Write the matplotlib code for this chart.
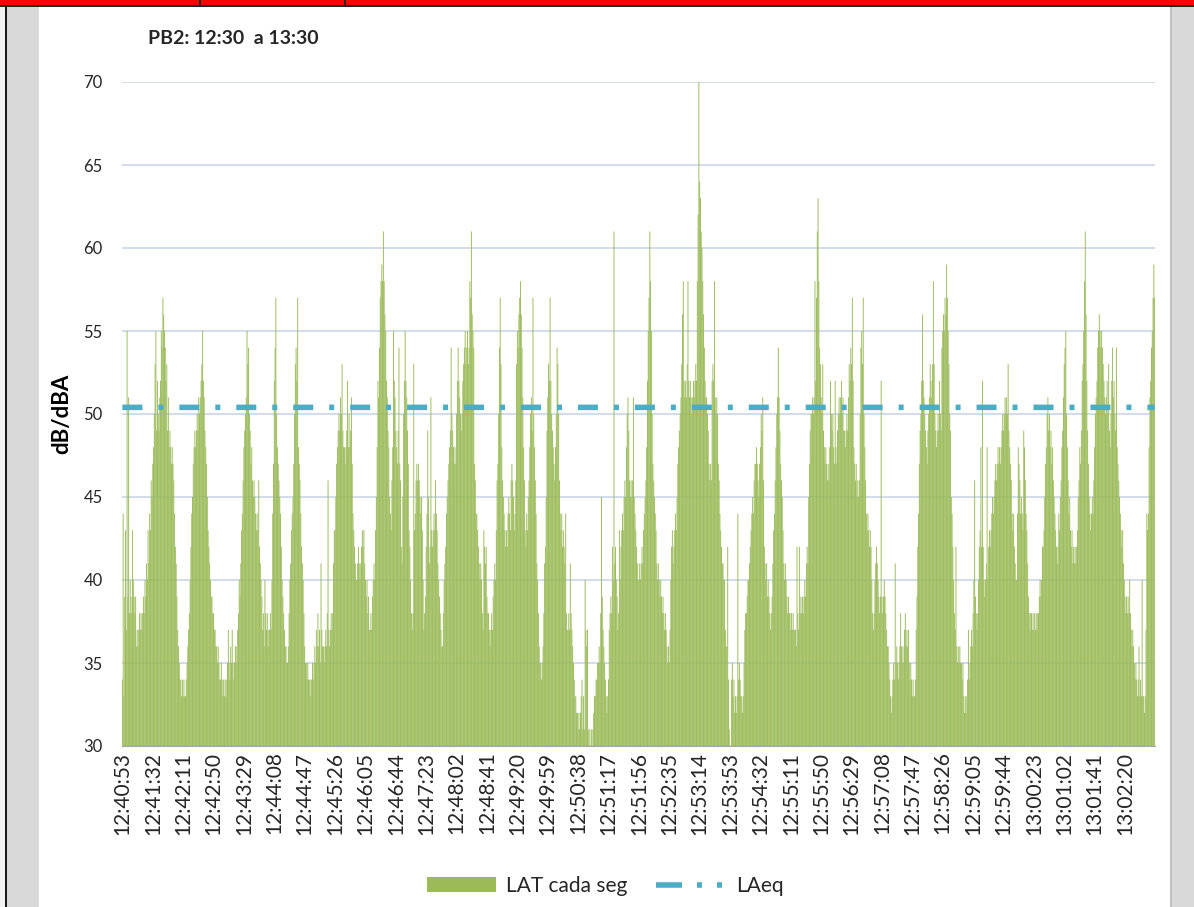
import numpy as np
import matplotlib.pyplot as plt
from matplotlib.patches import Rectangle, Patch
from matplotlib.lines import Line2D

plt.rcParams['font.family'] = ['Lato', 'DejaVu Sans']
plt.rcParams['lines.scale_dashes'] = False

title = 'PB2: 12:30  a 13:30'
y_label = 'dB/dBA'
series_names = ['LAT cada seg', 'LAeq']

# one label every 39 s, first bar = 12:40:53
tick_step = 39
tick_labels = ['12:40:53', '12:41:32', '12:42:11', '12:42:50', '12:43:29', '12:44:08',
               '12:44:47', '12:45:26', '12:46:05', '12:46:44', '12:47:23', '12:48:02',
               '12:48:41', '12:49:20', '12:49:59', '12:50:38', '12:51:17', '12:51:56',
               '12:52:35', '12:53:14', '12:53:53', '12:54:32', '12:55:11', '12:55:50',
               '12:56:29', '12:57:08', '12:57:47', '12:58:26', '12:59:05', '12:59:44',
               '13:00:23', '13:01:02', '13:01:41', '13:02:20']

# LAT each second (dBA), one row per 39 s label interval
lat_cada_seg = [
    34, 44, 33, 39, 43, 37, 55, 39, 51, 38, 40, 39, 38, 43, 40, 39, 38, 39, 36, 37, 36, 37, 38, 37, 38, 37, 38, 39, 38, 40, 39, 41, 40, 43, 41, 44, 43, 46, 45,
    47, 48, 50, 53, 55, 49, 52, 50, 49, 51, 52, 55, 54, 57, 56, 55, 54, 52, 53, 49, 51, 48, 49, 48, 47, 48, 47, 46, 44, 42, 41, 39, 37, 36, 35, 34, 34, 33, 34,
    33, 34, 33, 33, 34, 35, 36, 37, 38, 40, 42, 44, 45, 47, 48, 49, 48, 49, 50, 49, 51, 50, 51, 52, 53, 55, 52, 51, 49, 48, 47, 45, 43, 42, 41, 40, 39, 39, 38,
    38, 37, 37, 36, 36, 35, 36, 35, 34, 34, 35, 34, 33, 34, 33, 34, 33, 34, 35, 37, 35, 34, 36, 35, 37, 35, 34, 35, 36, 36, 35, 37, 38, 40, 39, 41, 43, 44, 46,
    48, 49, 50, 51, 55, 53, 54, 50, 49, 47, 48, 46, 45, 46, 45, 44, 43, 44, 43, 46, 42, 41, 40, 39, 37, 38, 36, 40, 38, 37, 38, 36, 37, 37, 38, 37, 40, 44, 47,
    52, 54, 57, 50, 48, 47, 46, 45, 44, 42, 40, 39, 38, 37, 36, 36, 35, 35, 36, 38, 40, 41, 43, 44, 45, 47, 50, 53, 54, 52, 57, 48, 47, 46, 44, 42, 41, 40, 38,
    36, 35, 35, 34, 35, 34, 34, 33, 34, 34, 35, 34, 35, 36, 35, 37, 36, 38, 36, 37, 35, 41, 37, 36, 36, 35, 36, 37, 36, 38, 46, 37, 36, 37, 38, 37, 38, 41, 43,
    43, 45, 47, 48, 49, 50, 49, 51, 50, 53, 49, 48, 48, 47, 48, 49, 52, 48, 50, 48, 49, 51, 47, 44, 43, 42, 41, 40, 40, 41, 42, 41, 40, 41, 42, 43, 42, 43, 41,
    40, 39, 40, 38, 39, 37, 37, 38, 37, 39, 40, 41, 40, 43, 45, 48, 52, 51, 54, 57, 58, 59, 58, 61, 58, 56, 55, 52, 51, 49, 48, 45, 44, 43, 46, 48, 55, 52, 51,
    49, 48, 47, 49, 54, 47, 46, 42, 41, 45, 50, 52, 55, 52, 51, 49, 47, 43, 42, 40, 38, 37, 38, 53, 43, 44, 46, 47, 46, 47, 46, 45, 44, 45, 43, 40, 37, 38, 39,
    42, 44, 49, 45, 41, 42, 51, 43, 42, 43, 44, 43, 46, 44, 43, 41, 40, 39, 38, 37, 36, 36, 38, 40, 41, 42, 44, 45, 46, 47, 48, 49, 54, 50, 49, 48, 47, 48, 47,
    50, 52, 54, 52, 51, 50, 49, 50, 52, 53, 54, 55, 53, 54, 55, 53, 54, 58, 57, 61, 56, 55, 54, 47, 46, 44, 44, 43, 42, 41, 40, 41, 40, 38, 37, 43, 42, 41, 42,
    39, 38, 38, 37, 36, 37, 38, 37, 39, 40, 41, 40, 43, 46, 47, 50, 54, 57, 53, 48, 46, 45, 44, 43, 42, 43, 42, 44, 45, 44, 43, 46, 47, 46, 45, 43, 44, 46, 53,
    55, 54, 56, 57, 58, 56, 54, 51, 48, 46, 43, 42, 44, 43, 45, 46, 48, 50, 51, 49, 57, 50, 48, 46, 44, 41, 40, 38, 36, 35, 35, 34, 35, 36, 38, 41, 42, 45, 49,
    51, 53, 52, 57, 52, 50, 49, 48, 47, 46, 48, 50, 54, 53, 50, 46, 44, 43, 44, 42, 43, 42, 41, 44, 38, 37, 37, 38, 37, 41, 38, 37, 36, 35, 34, 33, 33, 32, 32,
    31, 32, 31, 32, 33, 34, 31, 33, 31, 40, 37, 36, 37, 31, 30, 31, 30, 31, 30, 31, 32, 33, 33, 34, 34, 35, 35, 36, 35, 38, 45, 39, 37, 36, 35, 34, 33, 32, 33,
    34, 37, 38, 39, 38, 42, 40, 61, 41, 42, 40, 39, 37, 38, 43, 40, 42, 43, 44, 43, 45, 46, 45, 48, 50, 51, 49, 46, 45, 46, 45, 46, 51, 45, 44, 43, 42, 41, 40,
    40, 41, 40, 41, 42, 41, 43, 44, 45, 46, 48, 52, 55, 57, 61, 58, 55, 50, 47, 46, 45, 44, 43, 41, 40, 41, 40, 39, 40, 39, 38, 39, 38, 37, 38, 37, 36, 35, 36,
    35, 37, 40, 42, 43, 41, 42, 43, 44, 43, 45, 47, 48, 49, 50, 51, 53, 56, 58, 52, 51, 52, 51, 53, 58, 52, 51, 52, 51, 50, 51, 52, 51, 52, 53, 52, 58, 62, 70,
    64, 63, 61, 60, 58, 56, 54, 52, 51, 51, 50, 49, 47, 46, 47, 46, 52, 53, 52, 58, 51, 50, 51, 50, 47, 46, 44, 43, 42, 41, 41, 40, 40, 37, 36, 36, 42, 34, 31,
    30, 30, 34, 35, 33, 34, 32, 33, 32, 33, 44, 34, 35, 34, 33, 33, 32, 33, 35, 37, 38, 38, 39, 40, 40, 41, 42, 43, 44, 45, 44, 46, 47, 47, 48, 47, 46, 45, 47,
    48, 50, 49, 51, 46, 42, 41, 40, 41, 39, 40, 39, 38, 37, 38, 39, 41, 43, 44, 46, 48, 50, 51, 54, 51, 49, 47, 46, 45, 43, 41, 40, 41, 40, 39, 38, 39, 38, 38,
    37, 38, 37, 38, 37, 37, 37, 36, 42, 38, 37, 42, 38, 39, 38, 39, 38, 39, 40, 39, 41, 42, 41, 45, 47, 49, 50, 50, 51, 50, 51, 58, 52, 57, 61, 63, 58, 54, 53,
    51, 50, 53, 49, 48, 47, 48, 47, 46, 47, 46, 48, 52, 50, 49, 50, 48, 47, 52, 48, 47, 49, 50, 51, 50, 51, 52, 50, 51, 49, 49, 48, 49, 50, 49, 51, 53, 52, 54,
    53, 57, 52, 48, 47, 46, 47, 45, 46, 45, 46, 50, 54, 55, 53, 57, 50, 48, 46, 44, 43, 44, 43, 42, 43, 42, 40, 38, 37, 38, 40, 41, 42, 41, 40, 39, 38, 39, 52,
    39, 38, 39, 40, 39, 38, 37, 36, 36, 35, 34, 33, 32, 33, 34, 35, 34, 41, 35, 36, 35, 34, 35, 36, 38, 36, 35, 36, 35, 37, 38, 36, 37, 36, 37, 35, 34, 35, 34,
    33, 34, 33, 33, 34, 37, 39, 42, 44, 47, 49, 50, 52, 56, 52, 51, 50, 49, 48, 47, 49, 50, 51, 53, 52, 51, 53, 58, 53, 50, 49, 48, 49, 50, 49, 52, 50, 49, 54,
    55, 56, 55, 57, 56, 59, 57, 55, 53, 50, 49, 45, 44, 42, 40, 38, 37, 42, 36, 35, 36, 35, 36, 35, 35, 34, 35, 33, 32, 33, 32, 33, 34, 37, 34, 35, 36, 37, 36,
    38, 40, 46, 39, 38, 37, 38, 40, 42, 43, 48, 42, 52, 42, 40, 39, 40, 41, 48, 40, 42, 43, 42, 43, 44, 45, 44, 45, 46, 47, 46, 47, 48, 47, 48, 47, 48, 49, 50,
    49, 50, 51, 50, 51, 50, 53, 49, 48, 47, 46, 44, 43, 44, 42, 41, 40, 40, 44, 48, 47, 46, 44, 45, 44, 43, 49, 48, 46, 44, 43, 41, 39, 38, 37, 38, 38, 37, 38,
    37, 38, 37, 38, 37, 38, 38, 39, 40, 39, 40, 42, 42, 43, 45, 47, 48, 50, 51, 49, 50, 48, 49, 47, 48, 46, 45, 44, 43, 42, 41, 42, 44, 43, 45, 46, 48, 49, 51,
    53, 54, 55, 50, 48, 46, 44, 45, 43, 42, 43, 41, 42, 41, 42, 41, 42, 43, 45, 46, 48, 47, 49, 52, 53, 55, 58, 61, 56, 52, 49, 47, 45, 44, 43, 44, 45, 44, 46,
    48, 50, 51, 52, 54, 55, 56, 55, 54, 55, 54, 53, 52, 51, 50, 51, 52, 50, 53, 49, 48, 50, 52, 54, 51, 52, 50, 49, 54, 48, 47, 46, 45, 44, 43, 42, 43, 41, 40,
    39, 38, 39, 38, 39, 38, 40, 38, 37, 36, 37, 36, 35, 34, 35, 34, 33, 34, 36, 33, 34, 33, 40, 33, 33, 32, 33, 37, 44, 43, 44, 48, 51, 52, 54, 55, 57, 59, 57,
]
laeq = 50.4

green = '#9bbb59'
blue = '#4bacc6'
text_col = '#262626'

W, H = 1194, 907
fig = plt.figure(figsize=(W / 100, H / 100), dpi=100)
fig.patch.set_facecolor('white')


def px_rect(x0, y0, x1, y1, color):
    # rectangle given in pixels from the top-left corner
    fig.add_artist(Rectangle((x0 / W, 1 - y1 / H), (x1 - x0) / W, (y1 - y0) / H,
                             transform=fig.transFigure, facecolor=color,
                             edgecolor='none', zorder=-1))


# spreadsheet frame around the chart
px_rect(0, 0, W, H, '#f2f2f2')
px_rect(7, 7, 1170, H, 'white')
px_rect(7, 7, 39, H, '#d9d9d9')
px_rect(5, 0, 7, H, '#1a1a1a')
px_rect(1170, 7, 1172, H, '#c0c0c0')
px_rect(1172, 7, W, H, '#d9d9d9')
px_rect(0, 0, W, 5, '#ff0000')
px_rect(0, 5, W, 7, '#262626')
px_rect(199, 0, 201, 5, '#262626')
px_rect(344, 0, 346, 5, '#262626')

ax = fig.add_axes([122 / W, 1 - 746 / H, (1155 - 122) / W, (746 - 82) / H])
n = len(lat_cada_seg)
x = np.arange(n)
# bars are thinner than a pixel: no snapping, so none of them vanish
ax.bar(x, lat_cada_seg, width=1.2, color=green, linewidth=0, zorder=2, snap=False)
ax.plot(x, [laeq] * n, color=blue, lw=4, solid_capstyle='butt',
        dash_capstyle='butt', dashes=(14.4, 11.5, 3.6, 11.5), zorder=3)

ax.set_xlim(-0.5, n - 0.5)
ax.set_ylim(30, 70)
ax.set_yticks(np.arange(30, 71, 5))
ax.set_xticks(np.arange(0, n, tick_step)[:len(tick_labels)])
ax.set_xticklabels(tick_labels, rotation=90, fontsize=15, color=text_col)
ax.tick_params(axis='y', length=0, pad=14, labelsize=12, labelcolor=text_col)
ax.tick_params(axis='x', length=0, pad=4)
ax.yaxis.grid(True, color='#c9d6e8', lw=1.2, zorder=0)
ax.set_axisbelow(True)
for side in ['top', 'left', 'right']:
    ax.spines[side].set_visible(False)
ax.spines['bottom'].set_color('#a6a6a6')
ax.spines['bottom'].set_zorder(4)

fig.text(148 / W, 1 - 38 / H, title, ha='left', va='center',
         fontsize=14, fontweight='bold', color=text_col)
fig.text(62 / W, 1 - 414 / H, y_label, rotation=90, ha='center', va='center',
         fontsize=16, fontweight='bold', color='black')

handles = [Patch(facecolor=green, edgecolor='none'),
           Line2D([], [], color=blue, lw=4, dash_capstyle='butt',
                  dashes=(18.7, 10.8, 3.6, 10.8, 3.6, 10.8))]
fig.legend(handles, series_names, loc='center', bbox_to_anchor=(605 / W, 1 - 886 / H),
           ncol=2, frameon=False, fontsize=15, handlelength=3.3,
           handletextpad=0.5, columnspacing=1.4, labelcolor=text_col)

fig.savefig('out.png', dpi=100)
